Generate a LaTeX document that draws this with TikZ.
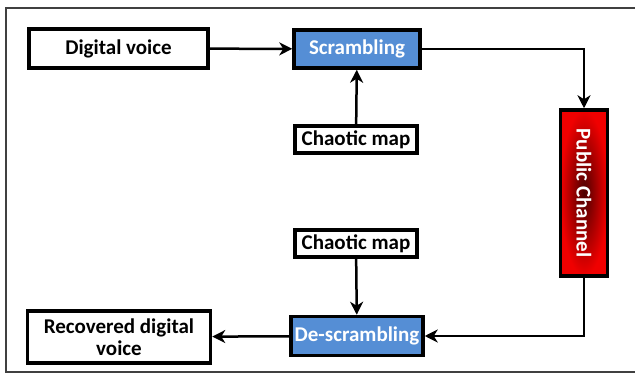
\documentclass[tikz,border=0pt]{standalone}
\usepackage{fontspec}
\setmainfont{Carlito}
\usetikzlibrary{arrows.meta}
\definecolor{boxblue}{HTML}{558ED5}
\definecolor{chanred}{HTML}{F00000}

\begin{document}
\begin{tikzpicture}[x=1pt,y=-1pt,font=\fontsize{21}{22}\selectfont\bfseries,
  box/.style={draw=black,line width=3.5pt,inner sep=0pt,align=center},
  bluebox/.style={box,fill=boxblue,text=white},
  flow/.style={line width=2.5pt,-{Stealth[length=13pt,width=13pt,inset=4pt]}}]
  \useasboundingbox (0,0) rectangle (635,374);
  \draw[black!75,line width=1.5pt] (6,8) rectangle (640,372);
  % upper branch
  \node[box,minimum width=179,minimum height=39] (voice) at (118.5,48.5) {Digital voice};
  \node[bluebox,minimum width=126,minimum height=38] (scramble) at (357,49) {Scrambling};
  \node[box,minimum width=122,minimum height=27] (chaosA) at (356,139.5) {Chaotic map};
  % channel
  \node[box,shading=radial,inner color=red!30!black,outer color=chanred,
    minimum width=47,minimum height=166] (channel) at (584,193) {};
  \node[text=white,rotate=-90] at (channel.center) {Public Channel};
  % lower branch
  \node[box,minimum width=122,minimum height=27] (chaosB) at (356,243.5) {Chaotic map};
  \node[bluebox,minimum width=132,minimum height=39] (descramble) at (357,336) {De-scrambling};
  \node[box,minimum width=183,minimum height=52] (recovered) at (119,337) {Recovered digital\\voice};
  % connectors
  \draw[flow] (voice) -- (scramble);
  \draw[flow] (chaosA) -- (scramble);
  \draw[flow] (scramble.east) -| (channel.north);
  \draw[flow] (channel.south) |- (descramble.east);
  \draw[flow] (chaosB) -- (descramble);
  \draw[flow] (descramble) -- (recovered);
\end{tikzpicture}
\end{document}
